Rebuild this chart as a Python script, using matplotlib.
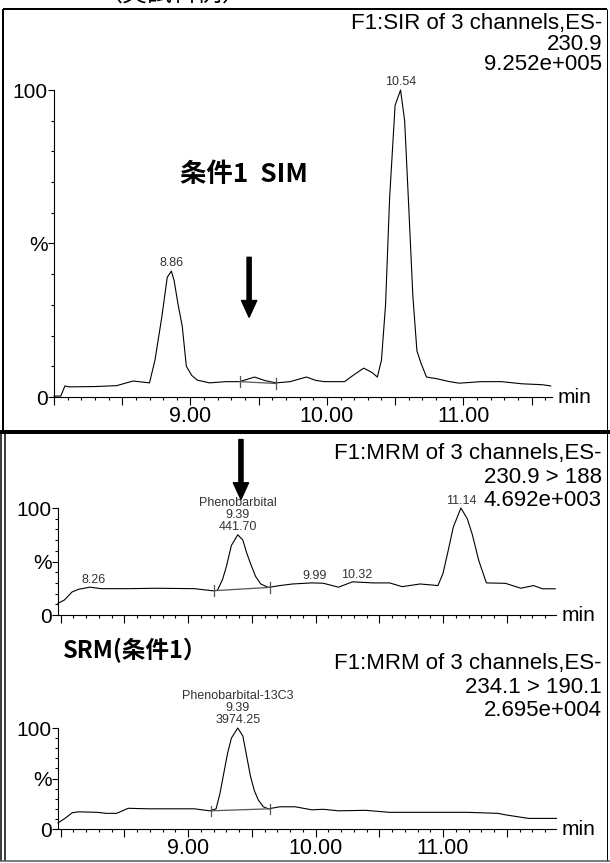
import matplotlib
matplotlib.use('Agg')
import numpy as np
import matplotlib.pyplot as plt
from matplotlib.lines import Line2D
from matplotlib.ticker import MultipleLocator, FixedLocator, FuncFormatter

W, H = 610, 863

# ---------------- data ----------------
# Panel 1: SIR 230.9
sir_t = [8.00, 8.05, 8.08, 8.11, 8.30, 8.46, 8.53, 8.58, 8.70, 8.74, 8.79, 8.83, 8.86, 8.88, 8.91,
         8.94, 8.97, 9.01, 9.05, 9.14, 9.26, 9.36, 9.47, 9.55, 9.63, 9.73, 9.85, 9.92, 9.98, 10.13,
         10.20, 10.27, 10.33, 10.37, 10.40, 10.43, 10.46, 10.50, 10.54, 10.57, 10.60, 10.63, 10.66,
         10.69, 10.73, 10.80, 10.90, 10.97, 11.13, 11.28, 11.43, 11.58, 11.64]
sir_v = [0.3, 0.3, 3.6, 3.3, 3.4, 3.7, 4.6, 5.2, 4.6, 12, 26, 39, 41, 38, 30,
         23, 10, 7, 5.5, 4.6, 5.0, 5.0, 6.5, 5.3, 4.6, 5.0, 6.5, 5.4, 5.0, 5.0,
         7.3, 9.4, 8.0, 6.5, 12, 30, 65, 95, 100, 90, 62, 33, 15,
         11, 6.5, 6.0, 5.0, 4.5, 5.0, 5.0, 4.3, 4.0, 3.6]
sir_peak_rt = [8.86, 10.54]
sir_peak_lbl = ['8.86', '10.54']
sir_int = [9.36, 5.0, 9.63, 4.4]
sir_header = ['F1:SIR of 3 channels,ES-', '230.9', '9.252e+005']

# Panel 2: MRM 230.9 > 188
mrm1_t = [7.98, 8.03, 8.09, 8.14, 8.23, 8.32, 8.53, 8.75, 9.05, 9.19, 9.23, 9.27, 9.30, 9.34, 9.39,
          9.43, 9.46, 9.49, 9.53, 9.57, 9.63, 9.72, 9.82, 9.97, 10.06, 10.18, 10.29, 10.45, 10.58,
          10.68, 10.82, 10.96, 11.00, 11.04, 11.08, 11.14, 11.19, 11.23, 11.28, 11.34, 11.49, 11.61,
          11.71, 11.78, 11.88]
mrm1_v = [11, 14, 21.5, 24, 26, 24.6, 24.6, 25, 24.6, 22.7, 23, 33, 45, 65, 75,
          70, 58, 48, 36, 29, 25.8, 27.5, 29, 30, 29.7, 26, 31, 30, 30,
          26.5, 29, 27.5, 39, 60, 82, 100, 90, 75, 51, 30, 29.6, 25,
          27.5, 24.5, 24.5]
mrm1_peak_rt = [8.26, 9.39, 9.99, 10.32, 11.14]
mrm1_peak_lbl = ['8.26', 'Phenobarbital\n9.39\n441.70', '9.99', '10.32', '11.14']
mrm1_int = [9.20, 22.7, 9.64, 25.8]
mrm1_header = ['F1:MRM of 3 channels,ES-', '230.9 > 188', '4.692e+003']

# Panel 3: MRM 234.1 > 190.1
mrm2_t = [7.98, 8.04, 8.09, 8.14, 8.29, 8.36, 8.44, 8.53, 8.69, 8.90, 9.05, 9.17, 9.22, 9.25, 9.28,
          9.31, 9.34, 9.39, 9.43, 9.46, 9.49, 9.52, 9.55, 9.59, 9.63, 9.72, 9.84, 9.97, 10.06, 10.18,
          10.39, 10.58, 11.19, 11.43, 11.49, 11.67, 11.89]
mrm2_v = [6, 11, 16, 17, 16.5, 15.5, 15.5, 20.5, 20, 20, 20, 18, 20, 35, 55,
          75, 90, 100, 92, 72, 52, 38, 29, 22, 20, 22, 22, 19, 19.5, 18,
          18.5, 16.5, 16.5, 15.5, 14, 10.5, 10.5]
mrm2_peak_rt = [9.39]
mrm2_peak_lbl = ['Phenobarbital-13C3\n9.39\n3974.25']
mrm2_int = [9.18, 18.0, 9.64, 20.0]
mrm2_header = ['F1:MRM of 3 channels,ES-', '234.1 > 190.1', '2.695e+004']

ytick_vals = [0, 50, 100]
ytick_lbls = ['0', '%', '100']
xtick_major = [8.0, 8.5, 9.0, 9.5, 10.0, 10.5, 11.0, 11.5]
xtick_labelled = [9.0, 10.0, 11.0]

# ---------------- style ----------------
plt.rcParams['font.family'] = ['Liberation Sans', 'DejaVu Sans']
CJK = ['Noto Sans CJK JP', 'DejaVu Sans']

fig = plt.figure(figsize=(6.1, 8.63), dpi=100)


def fx(x):
    return x / W


def fy(y):
    return 1 - y / H


def xfmt(v, p):
    for lv in xtick_labelled:
        if abs(v - lv) < 1e-6:
            return f'{lv:.2f}'
    return ''


def make_axes(x0, x1, y0, y100, xlim, show_labels):
    ax = fig.add_axes([fx(x0), fy(y0), (x1 - x0) / W, (y0 - y100) / H])
    ax.patch.set_alpha(0)
    ax.set_xlim(*xlim)
    ax.set_ylim(0, 100)
    for s in ['top', 'right']:
        ax.spines[s].set_visible(False)
    for s in ['left', 'bottom']:
        ax.spines[s].set_linewidth(0.8)
    ax.yaxis.set_major_locator(FixedLocator(ytick_vals))
    ax.set_yticklabels(ytick_lbls)
    ax.yaxis.set_minor_locator(MultipleLocator(10))
    ax.xaxis.set_major_locator(FixedLocator(xtick_major))
    ax.xaxis.set_minor_locator(MultipleLocator(0.1))
    if show_labels:
        ax.xaxis.set_major_formatter(FuncFormatter(xfmt))
    else:
        ax.xaxis.set_major_formatter(FuncFormatter(lambda v, p: ''))
    ax.tick_params(axis='x', which='major', direction='out', length=5.5, width=0.8,
                   labelsize=15.5, pad=1)
    ax.tick_params(axis='x', which='minor', direction='out', length=2.5, width=0.8)
    ax.tick_params(axis='y', which='major', direction='out', length=4, width=0.8,
                   labelsize=15, pad=0.5)
    ax.tick_params(axis='y', which='minor', direction='out', length=2.5, width=0.8)
    ax.text(1.012, 0, 'min', transform=ax.transAxes, ha='left', va='center', fontsize=15)
    return ax


def draw_panel(ax, t, v, rts, lbls, integ, tick_half, off):
    ax.plot(t, v, color='black', lw=0.8, clip_on=False)
    t0, v0, t1, v1 = integ
    ax.plot([t0, t1], [v0, v1], color='#555555', lw=0.9)
    for tt, vv in [(t0, v0), (t1, v1)]:
        ax.plot([tt, tt], [vv - tick_half, vv + tick_half], color='#555555', lw=0.9)
    for rt, lb in zip(rts, lbls):
        ax.annotate(lb, xy=(rt, np.interp(rt, t, v)), xytext=(0, off),
                    textcoords='offset points', ha='center', va='bottom', fontsize=9,
                    color='#333333', linespacing=1.0, annotation_clip=False)


# ---------------- panel 1 ----------------
ax1 = make_axes(54, 552, 397, 90, (8.0, 11.65), True)
draw_panel(ax1, sir_t, sir_v, sir_peak_rt, sir_peak_lbl, sir_int, 1.8, 1.5)
ax1.annotate('', xy=(9.43, 26), xytext=(9.43, 45.5),
             arrowprops=dict(facecolor='black', edgecolor='black', width=3, headwidth=11,
                             headlength=12, shrink=0))

# ---------------- panel 2 ----------------
ax2 = make_axes(58, 556, 615, 508, (7.98, 11.886), False)
draw_panel(ax2, mrm1_t, mrm1_v, mrm1_peak_rt, mrm1_peak_lbl, mrm1_int, 5, 1)
ax2.annotate('', xy=(9.415, 108), xytext=(9.415, 164),
             arrowprops=dict(facecolor='black', edgecolor='black', width=3, headwidth=11,
                             headlength=12, shrink=0), annotation_clip=False)

# ---------------- panel 3 ----------------
ax3 = make_axes(58, 556, 829, 728, (7.98, 11.886), True)
draw_panel(ax3, mrm2_t, mrm2_v, mrm2_peak_rt, mrm2_peak_lbl, mrm2_int, 5, 1.5)

# ---------------- header texts ----------------
for ys, hdr in [((24, 44, 64), sir_header), ((453, 477, 500), mrm1_header),
                ((663, 687, 710), mrm2_header)]:
    for y, s in zip(ys, hdr):
        fig.text(fx(602), fy(y), s, ha='right', va='center', fontsize=16)

fig.text(fx(180), fy(175), '条件1  SIM', ha='left', va='center', fontsize=19,
         fontweight='bold', family=CJK)
fig.text(fx(63), fy(650), 'SRM(条件1）', ha='left', va='center', fontsize=17,
         fontweight='bold', family=CJK)
fig.text(fx(173), fy(7), '（実試料例）', ha='center', va='bottom', fontsize=18, family=CJK)

# ---------------- frames ----------------
def fline(xs, ys, lw_px, color='black'):
    fig.add_artist(Line2D([fx(x) for x in xs], [fy(y) for y in ys],
                          transform=fig.transFigure, color=color, lw=lw_px * 0.72,
                          solid_capstyle='butt'))

fline([3, 607], [9.5, 9.5], 2)
fline([3, 3], [9, 432], 2)
fline([607, 607], [9, 432], 1)
fline([0, 610], [432.5, 432.5], 4)
fline([1, 1], [432, 861], 1.5)
fline([4.5, 4.5], [432, 861], 1.5)
fline([607, 607], [432, 861], 1)
fline([0, 610], [860.5, 860.5], 1.5, '#555555')

fig.savefig('out.png', dpi=100)
